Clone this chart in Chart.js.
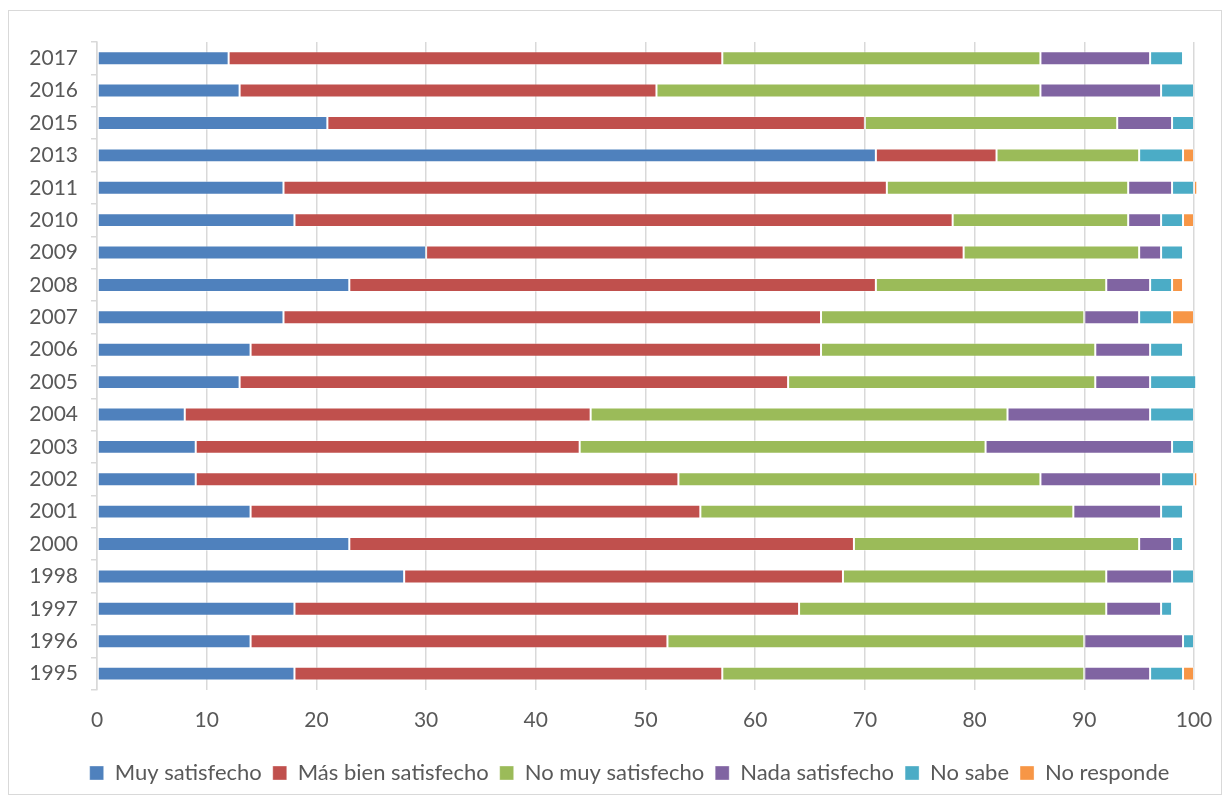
<!DOCTYPE html>
<html>
<head>
<meta charset="utf-8">
<script src="https://cdn.jsdelivr.net/npm/chart.js@4/dist/chart.umd.min.js"></script>
<style>
  html, body { margin: 0; padding: 0; background: #fff; }
  #box { position: absolute; left: 8px; top: 10px; width: 1212px; height: 783px; border: 1px solid #d9d9d9; }
  canvas { display: block; }
</style>
</head>
<body>
<div id="box"><canvas id="chart" width="1212" height="783"></canvas></div>
<script>
// Satisfacción por año, en %
const years = ["2017", "2016", "2015", "2013", "2011", "2010", "2009", "2008", "2007", "2006",
  "2005", "2004", "2003", "2002", "2001", "2000", "1998", "1997", "1996", "1995"];
const muySatisfecho = [12, 13, 21, 71, 17, 18, 30, 23, 17, 14, 13, 8, 9, 9, 14, 23, 28, 18, 14, 18];
const masBienSatisfecho = [45, 38, 49, 11, 55, 60, 49, 48, 49, 52, 50, 37, 35, 44, 41, 46, 40, 46, 38, 39];
const noMuySatisfecho = [29, 35, 23, 13, 22, 16, 16, 21, 24, 25, 28, 38, 37, 33, 34, 26, 24, 28, 38, 33];
const nadaSatisfecho = [10, 11, 5, 0, 4, 3, 2, 4, 5, 5, 5, 13, 17, 11, 8, 3, 6, 5, 9, 6];
const noSabe = [3, 3, 2, 4, 2, 2, 2, 2, 3, 3, 4.2, 4, 2, 3, 2, 1, 2, 1, 1, 3];
const noResponde = [0, 0, 0, 1, 0.3, 1, 0, 1, 2, 0, 0, 0, 0, 0.3, 0, 0, 0, 0, 0, 1];
const xTicks = [0, 10, 20, 30, 40, 50, 60, 70, 80, 90, 100];

const series = [
  ["Muy satisfecho", muySatisfecho, "#4f81bd"],
  ["Más bien satisfecho", masBienSatisfecho, "#c0504d"],
  ["No muy satisfecho", noMuySatisfecho, "#9bbb59"],
  ["Nada satisfecho", nadaSatisfecho, "#8064a2"],
  ["No sabe", noSabe, "#4bacc6"],
  ["No responde", noResponde, "#f79646"]
];

const TICK_FONT = { family: "Lato, 'Open Sans', sans-serif", size: 21 };
const LEGEND_FONT = { family: "Lato, 'Open Sans', sans-serif", size: 22 };
const TXT = "#595959";
const GRID = "#d9d9d9";

// la leyenda de Excel queda un poco a la derecha del centro
const shiftLegend = {
  id: "shiftLegend",
  afterLayout(chart) {
    if (chart.legend) { chart.legend.left += 28; chart.legend.right += 28; }
  }
};

new Chart(document.getElementById("chart"), {
  type: "bar",
  data: {
    labels: years,
    datasets: series.map(([label, data, color]) => ({
      label, data,
      backgroundColor: color,
      borderColor: "rgba(255,255,255,0.35)",
      borderWidth: 1,
      borderSkipped: false,
      barPercentage: 0.43,
      categoryPercentage: 1,
      clip: 8
    }))
  },
  options: {
    indexAxis: "y",
    responsive: false,
    animation: false,
    layout: { padding: { left: 0, right: 27, top: 31, bottom: 0 } },
    scales: {
      x: {
        stacked: true,
        min: 0, max: 100,
        afterBuildTicks: (s) => { s.ticks = xTicks.map(v => ({ value: v })); },
        afterFit: (s) => { s.paddingRight = 0; s.paddingLeft = 0; },
        grid: { color: GRID, lineWidth: 1.5, drawTicks: false },
        border: { display: false },
        ticks: { color: TXT, font: TICK_FONT, padding: 18 }
      },
      y: {
        stacked: true,
        afterFit: (s) => { s.width = 88; },
        grid: { drawOnChartArea: false, drawTicks: true, tickLength: 6, color: GRID, lineWidth: 1.5 },
        border: { color: GRID, width: 1.5 },
        ticks: { color: TXT, font: TICK_FONT, padding: 13 }
      }
    },
    plugins: {
      tooltip: { enabled: false },
      legend: {
        position: "bottom",
        labels: { color: TXT, font: LEGEND_FONT, boxWidth: 14, boxHeight: 14, padding: 11 }
      }
    }
  },
  plugins: [shiftLegend]
});
</script>
</body>
</html>
